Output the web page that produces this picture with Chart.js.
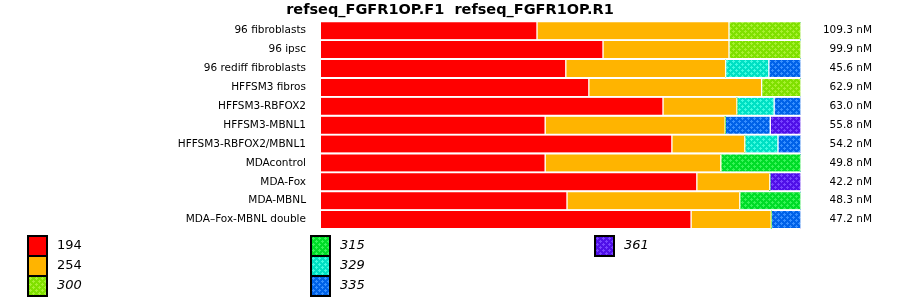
<!DOCTYPE html>
<html>
<head>
<meta charset="utf-8">
<script src="https://cdn.jsdelivr.net/npm/chart.js@4.4.0/dist/chart.umd.min.js"></script>
<style>
body { margin: 0; background: #fff; font-family: "DejaVu Sans", sans-serif; }
#wrap { position: relative; width: 900px; height: 299px; }
#legenda .item { position: absolute; height: 20px; }
#legenda .caixa { position: absolute; left: 0; top: 0; width: 17px; height: 18px; border: 2px solid #000; }
#legenda .texto { position: absolute; left: 30px; top: 0; line-height: 20px; font-size: 13px; color: #000; white-space: nowrap; }
</style>
</head>
<body>
<div id="wrap">
    <canvas id="grafico" width="900" height="299"></canvas>
    <div id="legenda"></div>
</div>
<script>
// amostras (eixo y)
const categorias = ['96 fibroblasts', '96 ipsc', '96 rediff fibroblasts', 'HFFSM3 fibros', 'HFFSM3-RBFOX2',
    'HFFSM3-MBNL1', 'HFFSM3-RBFOX2/MBNL1', 'MDAcontrol', 'MDA-Fox', 'MDA-MBNL', 'MDA\u2013Fox-MBNL double'];
// concentração total de cada amostra (coluna da direita)
const totais = ['109.3 nM', '99.9 nM', '45.6 nM', '62.9 nM', '63.0 nM', '55.8 nM', '54.2 nM', '49.8 nM', '42.2 nM', '48.3 nM', '47.2 nM'];

// fração (%) de cada produto por amostra
const s194 = [45.0, 58.75, 51.0, 55.8, 71.25, 46.7, 73.1, 46.7, 78.3, 51.25, 77.1];
const s254 = [40.0, 26.25, 33.3, 36.0, 15.4, 37.5, 15.2, 36.6, 15.2, 36.0, 16.7];
const s300 = [15.0, 15.0, 0, 8.2, 0, 0, 0, 0, 0, 0, 0];
const s315 = [0, 0, 0, 0, 0, 0, 0, 16.7, 0, 12.75, 0];
const s329 = [0, 0, 9.0, 0, 7.75, 0, 6.9, 0, 0, 0, 0];
const s335 = [0, 0, 6.7, 0, 5.6, 9.4, 4.8, 0, 0, 0, 6.2];
const s361 = [0, 0, 0, 0, 0, 6.4, 0, 0, 6.5, 0, 0];

const nomesSeries = ['194', '254', '300', '315', '329', '335', '361'];
const valoresSeries = [s194, s254, s300, s315, s329, s335, s361];

const coresBase = ['#ff0000', '#ffb400', '#80e000', '#00dc28', '#00e0c4', '#0062e8', '#5010e8'];
const coresPonto = [null, null, '#a8f030', '#38f458', '#40fce0', '#3890ff', '#7844ff'];
const italico = [false, false, true, true, true, true, true];

// cria o ladrilho com os pontinhos em forma de cruz
function criaLadrilho(base, ponto) {
    const c = document.createElement('canvas');
    c.width = 6; c.height = 6;
    const ctx = c.getContext('2d');
    ctx.fillStyle = base;
    ctx.fillRect(0, 0, 6, 6);
    if (ponto) {
        ctx.fillStyle = ponto;
        [[1, 1], [4, 4]].forEach(([x, y]) => {
            ctx.fillRect(x - 1, y, 3, 1);
            ctx.fillRect(x, y - 1, 1, 3);
        });
    }
    return c;
}

const canvas = document.getElementById('grafico');
const ctxPrincipal = canvas.getContext('2d');

const datasets = nomesSeries.map((nome, i) => {
    const ladrilho = criaLadrilho(coresBase[i], coresPonto[i]);
    return {
        label: nome,
        data: valoresSeries[i],
        backgroundColor: coresPonto[i] ? ctxPrincipal.createPattern(ladrilho, 'repeat') : coresBase[i],
        borderColor: '#ffffff',
        borderWidth: { left: i === 0 ? 0 : 1, right: 1, top: 0, bottom: 0 },
        borderSkipped: false,
        barThickness: 17
    };
});

new Chart(canvas, {
    type: 'bar',
    data: { labels: categorias, datasets: datasets },
    options: {
        indexAxis: 'y',
        responsive: false,
        animation: false,
        layout: { padding: { left: 28, right: 28, top: 0, bottom: 70 } },
        plugins: {
            legend: { display: false },
            tooltip: { enabled: false },
            title: {
                display: true,
                text: 'refseq_FGFR1OP.F1  refseq_FGFR1OP.R1',
                color: '#000',
                font: { family: 'DejaVu Sans', size: 14.5, weight: 'bold', lineHeight: 1.2 },
                padding: { top: 0, bottom: 2.6 }
            }
        },
        scales: {
            x: {
                stacked: true,
                min: 0,
                max: 100,
                display: false
            },
            y: {
                stacked: true,
                position: 'left',
                grid: { display: false, drawTicks: false },
                border: { display: false },
                ticks: { color: '#000', padding: 15, font: { family: 'DejaVu Sans', size: 10.5 } },
                afterFit: scale => { scale.width = 293; }
            },
            y2: {
                type: 'category',
                labels: totais,
                position: 'right',
                offset: true,
                display: true,
                grid: { display: false, drawTicks: false },
                border: { display: false },
                ticks: { color: '#000', crossAlign: 'far', font: { family: 'DejaVu Sans', size: 10.5 } },
                afterFit: scale => { scale.width = 71; }
            }
        }
    }
});

// legenda em 3 colunas, 3 linhas cada
const legenda = document.getElementById('legenda');
const colunasX = [27, 310, 594];
nomesSeries.forEach((nome, i) => {
    const col = Math.floor(i / 3);
    const lin = i % 3;
    const item = document.createElement('div');
    item.className = 'item';
    item.style.left = colunasX[col] + 'px';
    item.style.top = (235 + lin * 20) + 'px';
    const caixa = document.createElement('div');
    caixa.className = 'caixa';
    if (coresPonto[i]) {
        caixa.style.background = 'url(' + criaLadrilho(coresBase[i], coresPonto[i]).toDataURL() + ')';
    } else {
        caixa.style.background = coresBase[i];
    }
    const texto = document.createElement('span');
    texto.className = 'texto';
    texto.textContent = nome;
    if (italico[i]) texto.style.fontStyle = 'italic';
    item.appendChild(caixa);
    item.appendChild(texto);
    legenda.appendChild(item);
});
</script>
</body>
</html>
